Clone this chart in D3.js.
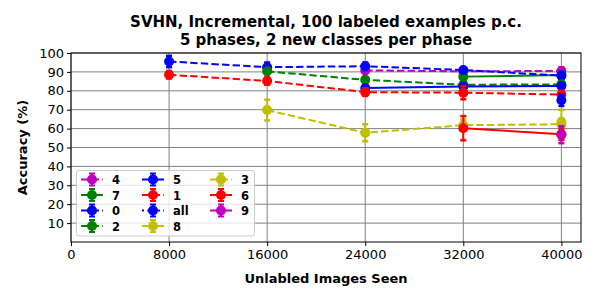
<!DOCTYPE html>
<html>
<head>
<meta charset="utf-8">
<script src="https://cdn.jsdelivr.net/npm/d3@7"></script>
<style>
  body { margin: 0; background: #fff; }
  text { font-family: "DejaVu Sans", sans-serif; }
</style>
</head>
<body>
<svg id="chart" width="600" height="300"></svg>
<script>
// phases (unlabeled images seen) and y ticks
var phases = [8000, 16000, 24000, 32000, 40000];
var yTicks = [10, 20, 30, 40, 50, 60, 70, 80, 90, 100];

// series in plotting / legend order
var labels = ["4", "7", "0", "2", "5", "1", "all", "8", "3", "6", "9"];
var colors = ["m", "g", "b", "g", "b", "r", "b", "y", "y", "r", "m"];
var styles = ["--", "-", "--", "--", "-", "--", ":", "-", "--", "-", "-"];

// mean accuracy per phase (null = class not seen yet)
var accuracy = [
  [null, null, 90.8, 90.3, 90.5],
  [null, null, null, 87.5, 88.3],
  [95.5, 92.5, 93.0, 91.0, 88.0],
  [null, 90.3, 85.8, 83.2, 83.4],
  [null, null, 81.5, 82.3, 82.5],
  [88.5, 85.2, 79.3, 79.0, 78.0],
  [null, null, null, null, 75.0],
  [null, null, null, null, 63.5],
  [null, 69.8, 57.8, 61.8, 62.3],
  [null, null, null, 60.2, 57.0],
  [null, null, null, null, 56.8]
];
// std of accuracy
var errors = [
  [0, 0, 1.5, 1.5, 2.0],
  [0, 0, 0, 1.5, 1.5],
  [3.0, 2.5, 2.0, 1.5, 2.0],
  [0, 1.5, 1.5, 1.5, 1.5],
  [0, 0, 1.5, 1.5, 1.5],
  [2.0, 2.0, 2.0, 3.5, 2.0],
  [0, 0, 0, 0, 3.0],
  [0, 0, 0, 0, 6.5],
  [0, 5.5, 4.5, 3.0, 3.0],
  [0, 0, 0, 6.4, 3.0],
  [0, 0, 0, 0, 4.5]
];

var colorMap = {b: "#0000ff", g: "#008000", r: "#ff0000", m: "#bf00bf", y: "#bfbf00"};
var dashMap = {"-": null, "--": "7.4,3.2", ":": "2,3.3"};

var svg = d3.select("#chart");
var margin = {left: 71, right: 19, top: 53, bottom: 58};
var W = 600, H = 300;

var x = d3.scaleLinear().domain([0, 41600]).range([margin.left, W - margin.right]);
var y = d3.scaleLinear().domain([0, 100]).range([H - margin.bottom, margin.top]);

// grid
svg.append("g").selectAll("line").data(phases.concat([0])).enter().append("line")
  .attr("x1", d => x(d)).attr("x2", d => x(d))
  .attr("y1", y(0)).attr("y2", y(100))
  .attr("stroke", "#808080").attr("stroke-width", 1);
svg.append("g").selectAll("line").data(yTicks).enter().append("line")
  .attr("x1", x(0)).attr("x2", x(41600))
  .attr("y1", d => y(d)).attr("y2", d => y(d))
  .attr("stroke", "#808080").attr("stroke-width", 1);

// axes
var xAxis = svg.append("g")
  .attr("transform", "translate(0," + y(0) + ")")
  .call(d3.axisBottom(x).tickValues([0].concat(phases)).tickSize(4).tickPadding(4).tickFormat(d3.format("d")));
var yAxis = svg.append("g")
  .attr("transform", "translate(" + x(0) + ",0)")
  .call(d3.axisLeft(y).tickValues(yTicks).tickSize(4).tickPadding(3));
[xAxis, yAxis].forEach(function (a) {
  a.selectAll("text").attr("font-size", 13).attr("fill", "#000").style("font-family", "DejaVu Sans");
  a.select(".domain").remove();
});

// frame
svg.append("rect")
  .attr("x", x(0)).attr("y", y(100))
  .attr("width", x(41600) - x(0)).attr("height", y(0) - y(100))
  .attr("fill", "none").attr("stroke", "#000").attr("stroke-width", 1);

// series
var line = d3.line()
  .defined(d => d.v != null)
  .x(d => x(d.x)).y(d => y(d.v));

labels.forEach(function (name, i) {
  var col = colorMap[colors[i]];
  var pts = phases.map(function (p, j) { return {x: p, v: accuracy[i][j], e: errors[i][j]}; });
  var g = svg.append("g");
  g.append("path").datum(pts)
    .attr("d", line)
    .attr("fill", "none").attr("stroke", col).attr("stroke-width", 2)
    .attr("stroke-dasharray", dashMap[styles[i]]);
  var valid = pts.filter(d => d.v != null);
  // error bars
  g.selectAll(".eb").data(valid).enter().append("line")
    .attr("x1", d => x(d.x)).attr("x2", d => x(d.x))
    .attr("y1", d => y(d.v - d.e)).attr("y2", d => y(d.v + d.e))
    .attr("stroke", col).attr("stroke-width", 2);
  [-1, 1].forEach(function (s) {
    g.selectAll(".cap" + s).data(valid.filter(d => d.e > 0)).enter().append("line")
      .attr("x1", d => x(d.x) - 3).attr("x2", d => x(d.x) + 3)
      .attr("y1", d => y(d.v + s * d.e)).attr("y2", d => y(d.v + s * d.e))
      .attr("stroke", col).attr("stroke-width", 2.5);
  });
  g.selectAll("circle").data(valid).enter().append("circle")
    .attr("cx", d => x(d.x)).attr("cy", d => y(d.v)).attr("r", 5)
    .attr("fill", col);
});

// legend
var lg = svg.append("g");
lg.append("rect")
  .attr("x", 76.5).attr("y", 170.5).attr("width", 178).attr("height", 65.5)
  .attr("rx", 2.5).attr("fill", "#fff").attr("fill-opacity", 0.8)
  .attr("stroke", "#cccccc").attr("stroke-width", 1);
var colX = [81, 142, 210];
labels.forEach(function (name, i) {
  var c = Math.floor(i / 4), r = i % 4;
  var lx = colX[c], ly = 179.5 + r * 15.5;
  var col = colorMap[colors[i]];
  var e = lg.append("g");
  e.append("line").attr("x1", lx).attr("x2", lx + 22).attr("y1", ly).attr("y2", ly)
    .attr("stroke", col).attr("stroke-width", 2).attr("stroke-dasharray", dashMap[styles[i]]);
  e.append("line").attr("x1", lx + 11).attr("x2", lx + 11).attr("y1", ly - 6).attr("y2", ly + 6)
    .attr("stroke", col).attr("stroke-width", 2);
  e.append("line").attr("x1", lx + 8).attr("x2", lx + 14).attr("y1", ly - 6).attr("y2", ly - 6)
    .attr("stroke", col).attr("stroke-width", 2);
  e.append("line").attr("x1", lx + 8).attr("x2", lx + 14).attr("y1", ly + 6).attr("y2", ly + 6)
    .attr("stroke", col).attr("stroke-width", 2);
  e.append("circle").attr("cx", lx + 11).attr("cy", ly).attr("r", 5).attr("fill", col);
  e.append("text").attr("x", lx + 31).attr("y", ly + 4.5)
    .attr("font-size", 11.5).attr("font-weight", "bold").text(name);
});

// titles
var cx = (x(0) + x(41600)) / 2;
svg.append("text").attr("x", cx).attr("y", 27).attr("text-anchor", "middle")
  .attr("font-size", 15).attr("font-weight", "bold")
  .text("SVHN, Incremental, 100 labeled examples p.c.");
svg.append("text").attr("x", cx).attr("y", 44.5).attr("text-anchor", "middle")
  .attr("font-size", 15).attr("font-weight", "bold")
  .text("5 phases, 2 new classes per phase");
svg.append("text").attr("x", cx).attr("y", 283).attr("text-anchor", "middle")
  .attr("font-size", 13).attr("font-weight", "bold")
  .text("Unlabled Images Seen");
svg.append("text")
  .attr("transform", "translate(27," + ((y(0) + y(100)) / 2) + ") rotate(-90)")
  .attr("text-anchor", "middle")
  .attr("font-size", 13).attr("font-weight", "bold")
  .text("Accuracy (%)");
</script>
</body>
</html>
